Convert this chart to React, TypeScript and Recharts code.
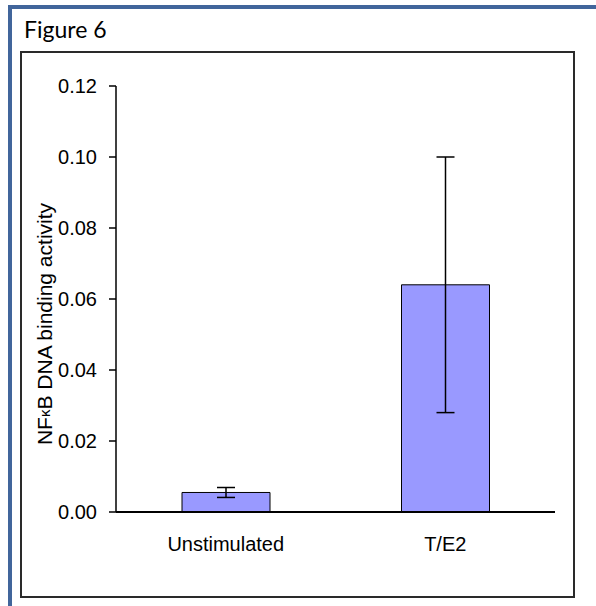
import React from 'react';
import {BarChart, Bar, XAxis, YAxis, ErrorBar} from 'recharts';

const categories = ['Unstimulated', 'T/E2'];
const meanActivity = [0.0055, 0.064];
const errActivity = [0.0014, 0.036];
const yTicks = [0, 0.02, 0.04, 0.06, 0.08, 0.1, 0.12];
// category boundaries, used for the tick marks under the x axis
const edgeTicks = [0, 1, 2];

const data = categories.map((name, i) => ({
  name,
  value: meanActivity[i],
  err: errActivity[i],
}));

const FONT = '"Liberation Sans", Arial, sans-serif';

const YLabel = ({viewBox}: any) => {
  const cx = viewBox.x + 8;
  const cy = viewBox.y + viewBox.height / 2 + 25;
  return (
    <text
      x={cx}
      y={cy}
      transform={`rotate(-90, ${cx}, ${cy})`}
      textAnchor="middle"
      dominantBaseline="central"
      fontFamily={FONT}
      fontSize={21}
      fill="#000"
    >
      NF<tspan fontSize={15}>κ</tspan>B DNA binding activity
    </text>
  );
};

export default function App() {
  return (
    <div
      style={{
        position: 'absolute',
        left: 0,
        top: 0,
        width: 596,
        height: 606,
        background: '#fff',
        overflow: 'hidden',
      }}
    >
      {/* outer blue frame (top and left edges only) */}
      <div style={{position: 'absolute', left: 8, top: 5, width: 588, height: 4, background: '#41659b'}} />
      <div style={{position: 'absolute', left: 8, top: 5, width: 4, height: 601, background: '#41659b'}} />
      <div
        style={{
          position: 'absolute',
          left: 24,
          top: 18,
          fontFamily: 'Lato, "Open Sans", sans-serif',
          fontSize: 23,
          lineHeight: '23px',
          color: '#000',
        }}
      >
        Figure 6
      </div>
      {/* inner box */}
      <div
        style={{
          position: 'absolute',
          left: 20,
          top: 51,
          width: 551,
          height: 543,
          border: '2px solid #2a2a2a',
        }}
      />
      <div style={{position: 'absolute', left: 0, top: 0}}>
        <BarChart
          width={596}
          height={606}
          data={data}
          margin={{top: 86, right: 41, bottom: 54, left: 36}}
          style={{fontFamily: FONT}}
        >
          <XAxis
            xAxisId="edges"
            type="number"
            domain={[0, 2]}
            ticks={edgeTicks}
            height={0}
            axisLine={false}
            tickLine={{stroke: '#000', strokeWidth: 1.5}}
            tickSize={5}
            tickFormatter={() => ''}
          />
          <XAxis
            dataKey="name"
            type="category"
            height={40}
            axisLine={{stroke: '#000', strokeWidth: 2}}
            tickLine={false}
            tickSize={0}
            tickMargin={25}
            tick={{fill: '#000', fontSize: 20, fontFamily: FONT}}
          />
          <YAxis
            type="number"
            domain={[0, 0.12]}
            ticks={yTicks}
            width={80}
            axisLine={{stroke: '#000', strokeWidth: 1.5}}
            tickLine={{stroke: '#000', strokeWidth: 1.5}}
            tickSize={7}
            tickMargin={12}
            tickFormatter={(v: number) => v.toFixed(2)}
            tick={{fill: '#000', fontSize: 20, fontFamily: FONT}}
            label={<YLabel />}
          />
          <Bar
            dataKey="value"
            barSize={88}
            fill="#9999ff"
            stroke="#000"
            strokeWidth={1}
            isAnimationActive={false}
          >
            <ErrorBar dataKey="err" direction="y" width={9} stroke="#000" strokeWidth={1.5} />
          </Bar>
        </BarChart>
      </div>
    </div>
  );
}
